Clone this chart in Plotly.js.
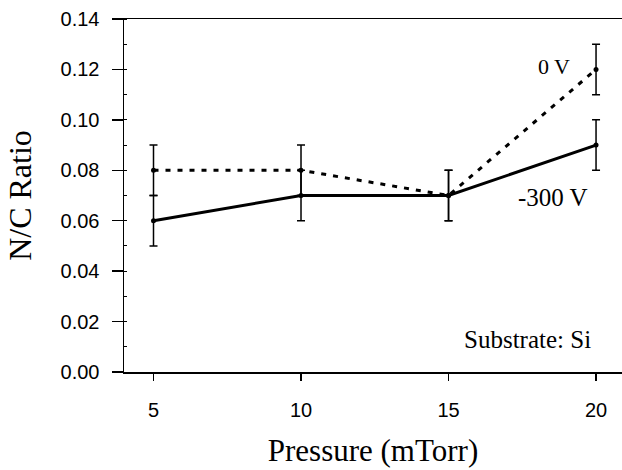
<!DOCTYPE html>
<html>
<head>
<meta charset="utf-8">
<script src="https://cdn.plot.ly/plotly-3.0.1.min.js"></script>
<style>html,body{margin:0;padding:0;background:#fff;}#chart{width:622px;height:470px;}</style>
</head>
<body>
<div id="chart"></div>
<script>
const pressure = [5, 10, 15, 20];
const ratio0V = [0.08, 0.08, 0.07, 0.12];
const err0V = [0.01, 0.01, 0.01, 0.01];
const ratio300V = [0.06, 0.07, 0.07, 0.09];
const err300V = [0.01, 0.01, 0.01, 0.01];
const yTicks = [0, 0.02, 0.04, 0.06, 0.08, 0.10, 0.12, 0.14];
const xTicks = [5, 10, 15, 20];

const serif = 'Liberation Serif, Times New Roman, serif';
const sans = 'Liberation Sans, Arial, sans-serif';

const traces = [
  {
    x: pressure, y: ratio0V, name: '0 V', type: 'scatter', mode: 'lines+markers',
    line: {color: '#000', width: 3, dash: '5px,7px'},
    marker: {color: '#000', size: 5},
    error_y: {type: 'data', array: err0V, visible: true, color: '#000', thickness: 1.5, width: 4}
  },
  {
    x: pressure, y: ratio300V, name: '-300 V', type: 'scatter', mode: 'lines+markers',
    line: {color: '#000', width: 3},
    marker: {color: '#000', size: 5},
    error_y: {type: 'data', array: err300V, visible: true, color: '#000', thickness: 1.5, width: 4}
  }
];

const layout = {
  width: 622, height: 470,
  margin: {l: 124, r: 0, t: 19, b: 98},
  paper_bgcolor: '#fff', plot_bgcolor: '#fff',
  showlegend: false,
  xaxis: {
    range: [4, 20.88], tickmode: 'array', tickvals: xTicks,
    ticks: 'outside', ticklen: 7, tickwidth: 1.5, tickcolor: '#000',
    ticklabelstandoff: 12,
    showline: true, linecolor: '#000', linewidth: 1.5, mirror: true,
    showgrid: false, zeroline: false,
    tickfont: {family: sans, size: 20, color: '#000'},
    title: {text: 'Pressure (mTorr)', standoff: 20, font: {family: serif, size: 31, color: '#000'}}
  },
  yaxis: {
    range: [0, 0.14], tickmode: 'array', tickvals: yTicks, tickformat: '.2f',
    ticks: 'outside', ticklen: 11, tickwidth: 1.5, tickcolor: '#000',
    ticklabelposition: 'outside', ticklabelstandoff: 8,
    minor: {dtick: 0.01, ticks: 'inside', ticklen: 3, tickcolor: '#000', tickwidth: 1, showgrid: false},
    showline: true, linecolor: '#000', linewidth: 1.5,
    showgrid: false, zeroline: false,
    tickfont: {family: sans, size: 20, color: '#000'},
    title: {text: 'N/C Ratio', standoff: 19, font: {family: serif, size: 32, color: '#000'}}
  },
  annotations: [
    {x: 19.19, y: 0.121, xref: 'x', yref: 'y', text: '0 V', showarrow: false, xanchor: 'right', yanchor: 'middle',
     font: {family: serif, size: 22, color: '#000'}},
    {x: 19.8, y: 0.0694, xref: 'x', yref: 'y', text: '-300 V', showarrow: false, xanchor: 'right', yanchor: 'middle',
     font: {family: serif, size: 25, color: '#000'}},
    {x: 19.9, y: 0.0127, xref: 'x', yref: 'y', text: 'Substrate: Si', showarrow: false, xanchor: 'right', yanchor: 'middle',
     font: {family: serif, size: 25, color: '#000'}}
  ]
};

Plotly.newPlot('chart', traces, layout, {displayModeBar: false, staticPlot: true});
</script>
</body>
</html>
